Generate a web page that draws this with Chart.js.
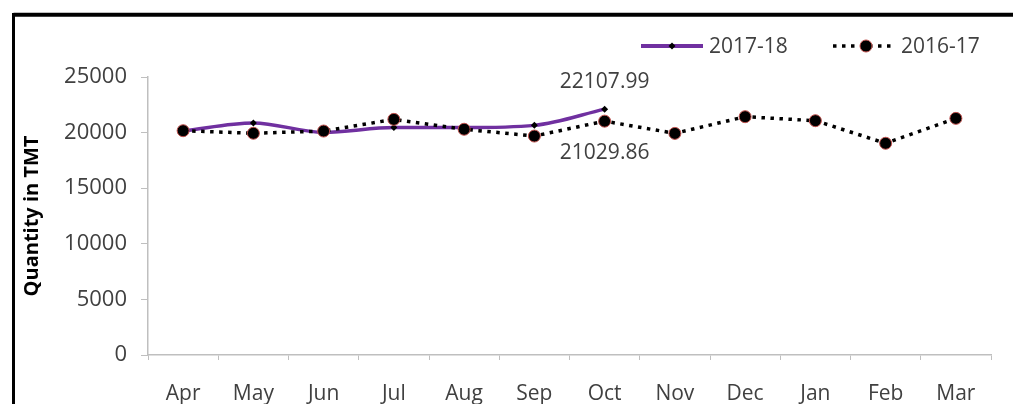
<!DOCTYPE html>
<html>
<head>
<meta charset="utf-8">
<script src="https://cdn.jsdelivr.net/npm/chart.js@4.4.0/dist/chart.umd.min.js"></script>
<style>
  html, body { margin: 0; padding: 0; background: #fff; }
  #wrap { position: relative; width: 1013px; height: 404px; overflow: hidden; }
  canvas { display: block; }
</style>
</head>
<body>
<div id="wrap"><canvas id="c" width="1013" height="404"></canvas></div>
<script>
// ---- data ----
const categories = ['Apr', 'May', 'Jun', 'Jul', 'Aug', 'Sep', 'Oct', 'Nov', 'Dec', 'Jan', 'Feb', 'Mar'];
const series1718 = [20150, 20870, 20020, 20450, 20450, 20650, 22107.99];
const series1617 = [20170, 19940, 20140, 21190, 20300, 19690, 21029.86, 19930, 21430, 21070, 19040, 21280];
const seriesNames = ['2017-18', '2016-17'];
const yTicks = [0, 5000, 10000, 15000, 20000, 25000];
const annotated = [
  { series: 0, index: 6, text: '22107.99', where: 'above' },
  { series: 1, index: 6, text: '21029.86', where: 'below' }
];

const FONT = "'Open Sans', 'Liberation Sans', sans-serif";
const TEXT = '#404040';
const AXIS = '#bfbfbf';
const PURPLE = '#7030a0';

const extras = {
  id: 'extras',
  afterDatasetsDraw(chart) {
    const ctx = chart.ctx;
    ctx.save();
    ctx.font = "21px " + FONT;
    ctx.fillStyle = TEXT;
    ctx.textAlign = 'center';
    ctx.textBaseline = 'middle';
    annotated.forEach(a => {
      const meta = chart.getDatasetMeta(a.series);
      const pt = meta.data[a.index];
      const y = a.where === 'above' ? pt.y - 27 : pt.y + 32;
      ctx.fillText(a.text, pt.x, y);
    });
    ctx.restore();
  },
  afterDraw(chart) {
    const ctx = chart.ctx;
    ctx.save();
    // frame
    ctx.strokeStyle = '#000';
    ctx.lineWidth = 4;
    ctx.beginPath();
    ctx.moveTo(1020, 14.8);
    ctx.lineTo(13.5, 14.8);
    ctx.stroke();
    ctx.lineWidth = 3;
    ctx.beginPath();
    ctx.moveTo(13.5, 13);
    ctx.lineTo(13.5, 410);
    ctx.stroke();

    // legend
    const ly = 46;
    ctx.font = "21px " + FONT;
    ctx.textAlign = 'left';
    ctx.textBaseline = 'middle';
    // 2017-18
    ctx.strokeStyle = PURPLE;
    ctx.lineWidth = 4;
    ctx.beginPath();
    ctx.moveTo(641, ly); ctx.lineTo(703, ly); ctx.stroke();
    ctx.fillStyle = '#000';
    ctx.beginPath();
    ctx.moveTo(672, ly - 3.5); ctx.lineTo(675.5, ly); ctx.lineTo(672, ly + 3.5); ctx.lineTo(668.5, ly); ctx.closePath();
    ctx.fill();
    ctx.fillStyle = TEXT;
    ctx.fillText(seriesNames[0], 709, ly + 1);
    // 2016-17
    ctx.strokeStyle = '#000';
    ctx.lineWidth = 3.5;
    ctx.setLineDash([3.5, 5.5]);
    ctx.beginPath();
    ctx.moveTo(833, ly); ctx.lineTo(895, ly); ctx.stroke();
    ctx.setLineDash([]);
    ctx.beginPath();
    ctx.arc(866, ly, 6, 0, Math.PI * 2);
    ctx.fillStyle = '#000';
    ctx.fill();
    ctx.lineWidth = 1;
    ctx.strokeStyle = '#c0504d';
    ctx.stroke();
    ctx.fillStyle = TEXT;
    ctx.fillText(seriesNames[1], 901, ly + 1);
    ctx.restore();
  }
};

new Chart(document.getElementById('c'), {
  type: 'line',
  data: {
    labels: categories,
    datasets: [
      {
        label: seriesNames[0],
        data: series1718,
        borderColor: PURPLE,
        borderWidth: 3.5,
        tension: 0.4,
        cubicInterpolationMode: 'monotone',
        pointStyle: 'rectRot',
        pointRadius: 3.5,
        pointBackgroundColor: '#000',
        pointBorderColor: '#000',
        pointBorderWidth: 0,
        fill: false,
        order: 1
      },
      {
        label: seriesNames[1],
        data: series1617,
        borderColor: '#000',
        borderWidth: 3.5,
        borderDash: [3.5, 5.5],
        borderCapStyle: 'butt',
        tension: 0,
        pointStyle: 'circle',
        pointRadius: 6,
        pointBackgroundColor: '#000',
        pointBorderColor: '#c0504d',
        pointBorderWidth: 1,
        fill: false,
        order: 0
      }
    ]
  },
  options: {
    responsive: false,
    animation: false,
    events: [],
    layout: { padding: { top: 77, right: 22, left: 0, bottom: 0 } },
    plugins: { legend: { display: false }, tooltip: { enabled: false }, title: { display: false } },
    scales: {
      x: {
        type: 'category',
        offset: true,
        grid: { display: true, offset: true, drawOnChartArea: false, drawTicks: true, tickLength: 5, color: AXIS, lineWidth: 1 },
        border: { display: true, color: AXIS, width: 1.5 },
        ticks: { color: TEXT, font: { family: FONT, size: 21 }, padding: 21, autoSkip: false, maxRotation: 0, minRotation: 0 },
        afterFit(scale) { scale.height = 49; }
      },
      y: {
        min: 0,
        max: 25000,
        afterBuildTicks(scale) { scale.ticks = yTicks.map(v => ({ value: v })); },
        grid: { display: true, drawOnChartArea: false, drawTicks: true, tickLength: 7, color: AXIS, lineWidth: 1 },
        border: { display: true, color: AXIS, width: 1.5 },
        ticks: { color: TEXT, font: { family: FONT, size: 22 }, padding: 14, callback: v => String(v) },
        title: { display: true, text: 'Quantity in TMT', color: '#000', font: { family: FONT, size: 20, weight: 'bold' }, padding: { top: 20, bottom: 0 } },
        afterFit(scale) { scale.width = 148; }
      }
    }
  },
  plugins: [extras]
});
</script>
</body>
</html>
